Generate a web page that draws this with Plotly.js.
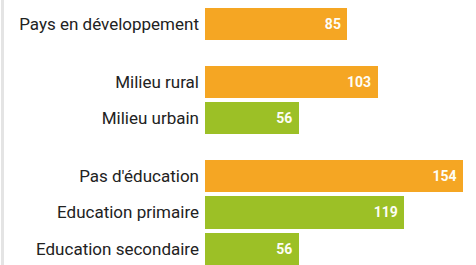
<!DOCTYPE html>
<html>
<head>
<meta charset="utf-8">
<script src="https://cdn.plot.ly/plotly-3.0.1.min.js"></script>
<style>html,body{margin:0;padding:0;background:#fff;}#chart{width:476px;height:265px;}</style>
</head>
<body>
<div id="chart"></div>
<script>
// Data
const categories = ["Pays en développement", "Milieu rural", "Milieu urbain", "Pas d'éducation", "Education primaire", "Education secondaire"];
const values = [85, 103, 56, 154, 119, 56];
const groupOf = [0, 1, 1, 2, 2, 2];
const colorKey = ["orange", "orange", "green", "orange", "green", "green"];

const palette = {orange: "#F5A623", green: "#9CC026"};
const groupGap = 0.58;
const yPos = categories.map((c, i) => i + groupOf[i] * groupGap);

const trace = {
  type: "bar",
  orientation: "h",
  x: values,
  y: yPos,
  width: 0.88,
  marker: {color: colorKey.map(k => palette[k])},
  text: values.map(v => String(v) + "\u00A0"),
  textposition: "inside",
  insidetextanchor: "end",
  textangle: 0,
  textfont: {color: "#fdfdf5", size: 14, family: "Roboto, sans-serif", weight: "bold"},
  hoverinfo: "none",
  cliponaxis: false
};

const last = yPos[yPos.length - 1];
const layout = {
  width: 476, height: 265,
  margin: {l: 205, r: 13, t: 0, b: 0, pad: 0},
  paper_bgcolor: "#ffffff", plot_bgcolor: "#ffffff",
  showlegend: false,
  bargap: 0,
  xaxis: {range: [0, 154], visible: false, fixedrange: true},
  yaxis: {
    range: [last + 0.44, -0.66],
    tickvals: yPos, ticktext: categories,
    showgrid: false, zeroline: false, showline: false, ticks: "",
    ticklabelstandoff: 5,
    tickfont: {family: "Roboto, sans-serif", size: 17, color: "#222222"}
  },
  shapes: [{type: "line", xref: "paper", yref: "paper", x0: -0.785, x1: -0.785, y0: 0, y1: 1, line: {color: "#e4e4e4", width: 3}}]
};

Plotly.newPlot("chart", [trace], layout, {displayModeBar: false, staticPlot: true});
</script>
</body>
</html>
